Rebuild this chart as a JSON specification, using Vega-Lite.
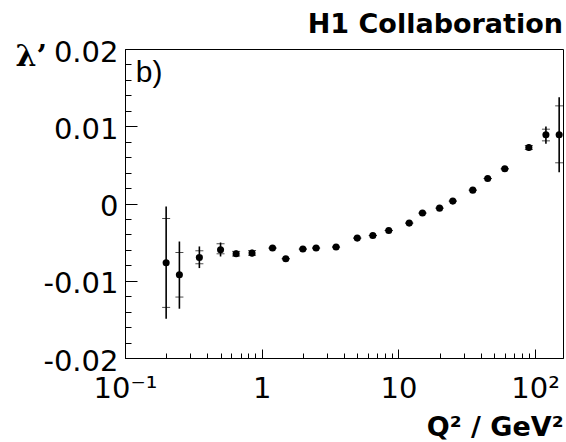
{
  "$schema": "https://vega.github.io/schema/vega-lite/v6.json",
  "autosize": "none",
  "width": 438,
  "height": 309,
  "padding": {"left": 125, "top": 49, "right": 3, "bottom": 84},
  "background": "white",
  "config": {
    "view": {"stroke": "black", "strokeWidth": 1},
    "font": "DejaVu Sans",
    "axis": {"grid": false, "domainColor": "black", "tickColor": "black", "labelColor": "black", "titleColor": "black", "labelFont": "DejaVu Sans", "labelFontWeight": "normal", "tickWidth": 1, "domainWidth": 1}
  },
  "title": {"text": "H1 Collaboration", "anchor": "end", "frame": "group", "fontSize": 27, "fontWeight": "bold", "font": "DejaVu Sans", "color": "black", "offset": 0, "dy": 22, "baseline": "alphabetic"},
  "resolve": {"axis": {"x": "independent", "y": "independent"}},
  "data": {"values": [
    {"q2": 0.2, "lam": -0.00767, "tlo": -0.01492, "thi": -0.00039, "slo": -0.01345, "shi": -0.00194},
    {"q2": 0.25, "lam": -0.00922, "tlo": -0.01362, "thi": -0.00492, "slo": -0.01211, "shi": -0.00634},
    {"q2": 0.35, "lam": -0.00699, "tlo": -0.00836, "thi": -0.00556, "slo": -0.0078, "shi": -0.00612},
    {"q2": 0.5, "lam": -0.00599, "tlo": -0.00686, "thi": -0.00505, "slo": -0.00651, "shi": -0.00521},
    {"q2": 0.65, "lam": -0.00651, "tlo": -0.00693, "thi": -0.00608, "slo": -0.0068, "shi": -0.0062},
    {"q2": 0.85, "lam": -0.00642, "tlo": -0.00684, "thi": -0.00598, "slo": -0.0067, "shi": -0.0061},
    {"q2": 1.2, "lam": -0.00577, "tlo": -0.00607, "thi": -0.00547, "slo": -0.00577, "shi": -0.00577},
    {"q2": 1.5, "lam": -0.00715, "tlo": -0.00745, "thi": -0.00685, "slo": -0.00715, "shi": -0.00715},
    {"q2": 2.0, "lam": -0.0059, "tlo": -0.0062, "thi": -0.0056, "slo": -0.0059, "shi": -0.0059},
    {"q2": 2.5, "lam": -0.00577, "tlo": -0.00607, "thi": -0.00547, "slo": -0.00577, "shi": -0.00577},
    {"q2": 3.5, "lam": -0.00564, "tlo": -0.00594, "thi": -0.00534, "slo": -0.00564, "shi": -0.00564},
    {"q2": 5.0, "lam": -0.00448, "tlo": -0.00478, "thi": -0.00418, "slo": -0.00448, "shi": -0.00448},
    {"q2": 6.5, "lam": -0.00414, "tlo": -0.00444, "thi": -0.00384, "slo": -0.00414, "shi": -0.00414},
    {"q2": 8.5, "lam": -0.00349, "tlo": -0.00379, "thi": -0.00319, "slo": -0.00349, "shi": -0.00349},
    {"q2": 12, "lam": -0.00254, "tlo": -0.00284, "thi": -0.00224, "slo": -0.00254, "shi": -0.00254},
    {"q2": 15, "lam": -0.00124, "tlo": -0.00154, "thi": -0.00094, "slo": -0.00124, "shi": -0.00124},
    {"q2": 20, "lam": -0.0006, "tlo": -0.0009, "thi": -0.0003, "slo": -0.0006, "shi": -0.0006},
    {"q2": 25, "lam": 0.00031, "tlo": 0.00001, "thi": 0.00061, "slo": 0.00031, "shi": 0.00031},
    {"q2": 35, "lam": 0.00173, "tlo": 0.00143, "thi": 0.00203, "slo": 0.00173, "shi": 0.00173},
    {"q2": 45, "lam": 0.00323, "tlo": 0.00293, "thi": 0.00353, "slo": 0.00323, "shi": 0.00323},
    {"q2": 60, "lam": 0.00449, "tlo": 0.00419, "thi": 0.00479, "slo": 0.00449, "shi": 0.00449},
    {"q2": 90, "lam": 0.00724, "tlo": 0.00682, "thi": 0.00768, "slo": 0.007, "shi": 0.0075},
    {"q2": 120, "lam": 0.00889, "tlo": 0.00772, "thi": 0.00996, "slo": 0.00811, "shi": 0.00962},
    {"q2": 150, "lam": 0.00889, "tlo": 0.00406, "thi": 0.01376, "slo": 0.00527, "shi": 0.01264}
  ]},
  "layer": [
    {
      "mark": {"type": "rule", "strokeWidth": 1.6, "color": "black"},
      "encoding": {
        "x": {"field": "q2", "type": "quantitative",
          "scale": {"type": "log", "domain": [0.1, 160], "nice": false},
          "axis": {
            "orient": "bottom",
            "values": [0.1, 1, 10, 100],
            "labelExpr": "datum.value == 0.1 ? '10⁻¹' : datum.value == 1 ? '1' : datum.value == 10 ? '10' : '10²'",
            "labelFontSize": 29, "labelPadding": 25, "labelFlush": false, "labelOverlap": false, "labelBaseline": "top",
            "tickSize": -9,
            "title": "Q² / GeV²", "titleFontSize": 27, "titleFontWeight": "bold", "titleFont": "DejaVu Sans",
            "titleAnchor": "end", "titleAlign": "right", "titleBaseline": "alphabetic", "titleX": 438, "titleY": 77
          }
        },
        "y": {"field": "tlo", "type": "quantitative",
          "scale": {"domain": [-0.02, 0.02], "nice": false, "zero": false},
          "axis": {
            "orient": "left",
            "values": [-0.02, -0.01, 0, 0.01, 0.02],
            "labelExpr": "datum.value == 0 ? '0' : (datum.value < 0 ? '-' : '') + format(abs(datum.value), '.2f')",
            "labelFontSize": 29, "labelPadding": 19, "labelFlush": false, "labelOverlap": false, "labelOffset": 3,
            "tickSize": -12,
            "title": "λ’", "titleFont": "DejaVu Serif", "titleFontWeight": "bold", "titleFontSize": 30,
            "titleAngle": 0, "titleAlign": "left", "titleBaseline": "alphabetic", "titleX": -110, "titleY": 16
          }
        },
        "y2": {"field": "thi"}
      }
    },
    {
      "mark": {"type": "tick", "orient": "horizontal", "size": 8, "thickness": 1, "color": "black"},
      "encoding": {
        "x": {"field": "q2", "type": "quantitative",
          "axis": {"orient": "bottom", "values": [0.2, 0.3, 0.4, 0.5, 0.6, 0.7, 0.8, 0.9, 2, 3, 4, 5, 6, 7, 8, 9, 20, 30, 40, 50, 60, 70, 80, 90], "labels": false, "domain": false, "tickSize": -5, "title": null}},
        "y": {"field": "slo", "type": "quantitative",
          "axis": {"orient": "left", "values": [-0.018, -0.016, -0.014, -0.012, -0.008, -0.006, -0.004, -0.002, 0.002, 0.004, 0.006, 0.008, 0.012, 0.014, 0.016, 0.018], "labels": false, "domain": false, "tickSize": -6, "title": null}}
      }
    },
    {
      "mark": {"type": "tick", "orient": "horizontal", "size": 8, "thickness": 1, "color": "black"},
      "encoding": {"x": {"field": "q2", "type": "quantitative", "axis": null}, "y": {"field": "shi", "type": "quantitative", "axis": null}}
    },
    {
      "mark": {"type": "point", "filled": true, "size": 50, "color": "black", "opacity": 1},
      "encoding": {"x": {"field": "q2", "type": "quantitative", "axis": null}, "y": {"field": "lam", "type": "quantitative", "axis": null}}
    },
    {
      "data": {"values": [{"label": "b)"}]},
      "mark": {"type": "text", "align": "left", "baseline": "alphabetic", "fontSize": 30, "fontWeight": "normal", "font": "Liberation Sans", "color": "black"},
      "encoding": {"text": {"field": "label"}, "x": {"datum": 0.12, "axis": null}, "y": {"datum": 0.0157, "axis": null}}
    }
  ]
}
